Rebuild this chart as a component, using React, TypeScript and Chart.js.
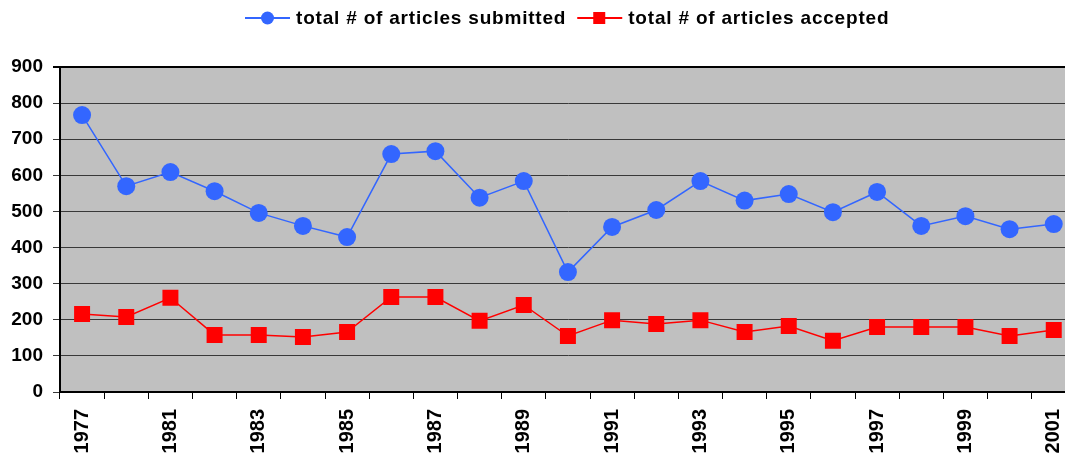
import React, { useEffect, useRef } from "react";
import { Chart, registerables } from "chart.js";

Chart.register(...registerables);

const years = [
  "1977", "1979", "1981", "1982", "1983", "1984", "1985", "1986", "1987", "1988", "1989", "1990",
  "1991", "1992", "1993", "1994", "1995", "1996", "1997", "1998", "1999", "2000", "2001",
];
const shownYears = ["1977", "1981", "1983", "1985", "1987", "1989", "1991", "1993", "1995", "1997", "1999", "2001"];
const submitted = [767, 570, 609, 556, 496, 460, 429, 659, 667, 538, 584, 332, 457, 504, 584, 530, 548, 498, 554, 460, 487, 451, 465];
const accepted = [216, 208, 261, 158, 158, 152, 166, 263, 263, 197, 241, 155, 199, 188, 199, 166, 183, 142, 180, 180, 180, 155, 172];
const yTicks = [0, 100, 200, 300, 400, 500, 600, 700, 800, 900];

const BLUE = "#3366FF";
const RED = "#FF0000";
const FONT = "'Liberation Sans', Arial, sans-serif";

const bgPlugin = {
  id: "plotBg",
  beforeDraw(chart: any) {
    const { ctx, chartArea } = chart;
    ctx.save();
    ctx.fillStyle = "#C0C0C0";
    ctx.fillRect(chartArea.left, chartArea.top, chartArea.right - chartArea.left, chartArea.bottom - chartArea.top);
    ctx.restore();
  },
};

const legendPlugin = {
  id: "customLegend",
  afterDraw(chart: any) {
    const { ctx } = chart;
    ctx.save();
    ctx.font = `bold 19px ${FONT}`;
    (ctx as any).letterSpacing = "0.8px";
    ctx.textBaseline = "middle";
    ctx.fillStyle = "#000";
    const y = 18;
    const items = [
      { label: chart.data.datasets[0].label, color: BLUE, shape: "circle" },
      { label: chart.data.datasets[1].label, color: RED, shape: "rect" },
    ];
    let x = 245;
    items.forEach((it) => {
      ctx.strokeStyle = it.color;
      ctx.lineWidth = 2;
      ctx.beginPath();
      ctx.moveTo(x, y);
      ctx.lineTo(x + 45, y);
      ctx.stroke();
      ctx.fillStyle = it.color;
      if (it.shape === "circle") {
        ctx.beginPath();
        ctx.arc(x + 22.5, y, 6.5, 0, Math.PI * 2);
        ctx.fill();
      } else {
        ctx.fillRect(x + 16, y - 6, 12, 12);
      }
      ctx.fillStyle = "#000";
      ctx.textAlign = "left";
      ctx.fillText(it.label, x + 51, y + 1);
      const w = ctx.measureText(it.label).width;
      x = x + 51 + w + 11;
    });
    ctx.restore();
  },
};

export default function App() {
  const ref = useRef<HTMLCanvasElement | null>(null);
  useEffect(() => {
    if (!ref.current) return;
    const chart = new Chart(ref.current, {
      type: "line",
      data: {
        labels: years,
        datasets: [
          {
            label: "total # of articles submitted",
            data: submitted,
            borderColor: BLUE,
            backgroundColor: BLUE,
            borderWidth: 1.5,
            pointStyle: "circle",
            pointRadius: 9,
            pointBorderWidth: 0,
            pointBackgroundColor: BLUE,
            tension: 0,
          },
          {
            label: "total # of articles accepted",
            data: accepted,
            borderColor: RED,
            backgroundColor: RED,
            borderWidth: 1.5,
            pointStyle: "rect",
            pointRadius: 11.3,
            pointBorderWidth: 0,
            pointBackgroundColor: RED,
            tension: 0,
          },
        ],
      },
      options: {
        animation: false,
        responsive: false,
        devicePixelRatio: 1,
        layout: { padding: { top: 67, left: 0, right: 0, bottom: 0 } },
        plugins: {
          legend: { display: false },
          tooltip: { enabled: false },
        },
        scales: {
          x: {
            type: "category",
            offset: true,
            afterFit: (s: any) => {
              s.height = 65;
            },
            grid: {
              offset: true,
              drawOnChartArea: false,
              drawTicks: true,
              tickLength: 7,
              color: "#000",
              lineWidth: 1,
            },
            border: { display: true, color: "#000", width: 2 },
            ticks: {
              autoSkip: false,
              maxRotation: 90,
              minRotation: 90,
              padding: 10,
              color: "#000",
              font: { family: FONT, size: 20, weight: "bold" },
              callback: (_v: any, i: number) => (shownYears.includes(years[i]) ? years[i] : ""),
            },
          },
          y: {
            min: yTicks[0],
            max: yTicks[yTicks.length - 1],
            afterFit: (s: any) => {
              s.width = 60;
            },
            afterBuildTicks: (s: any) => {
              s.ticks = yTicks.map((v) => ({ value: v }));
            },
            grid: {
              drawTicks: true,
              tickLength: 7,
              color: (c: any) => (c.tick && c.tick.value === 900 ? "#000" : "#383838"),
              lineWidth: (c: any) => (c.tick && c.tick.value === 900 ? 2 : 1),
            },
            border: { display: true, color: "#000", width: 2 },
            ticks: {
              padding: 10,
              color: "#000",
              font: { family: FONT, size: 19, weight: "bold" },
            },
          },
        },
      },
      plugins: [bgPlugin, legendPlugin],
    });
    return () => chart.destroy();
  }, []);

  return (
    <div
      style={{
        position: "fixed",
        left: 0,
        top: 0,
        width: 1065,
        height: 457,
        overflow: "hidden",
        background: "#fff",
      }}
    >
      <canvas ref={ref} width={1088} height={457} style={{ display: "block" }} />
    </div>
  );
}
